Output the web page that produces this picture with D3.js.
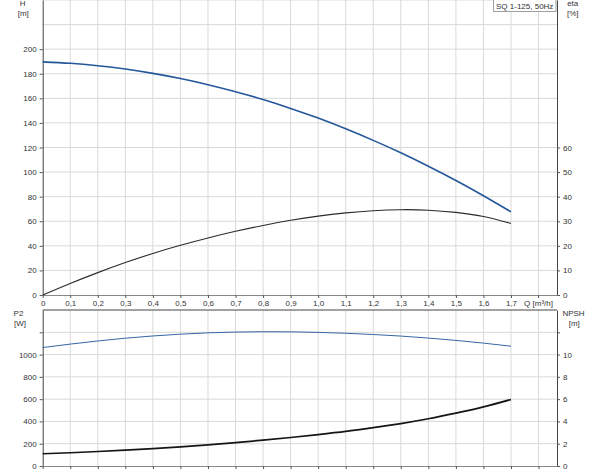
<!DOCTYPE html>
<html>
<head>
<meta charset="utf-8">
<script src="https://cdn.jsdelivr.net/npm/d3@7"></script>
<style>
  html, body { margin: 0; padding: 0; background: #fff; }
  svg { display: block; font-family: "Liberation Sans", Arial, sans-serif; }
  .tick text { fill: #333; font-size: 8px; }
</style>
</head>
<body>
<svg id="chart" width="600" height="473"></svg>
<script>
// ---- data ----
const flow = [0, 0.1, 0.2, 0.3, 0.4, 0.5, 0.6, 0.7, 0.8, 0.9, 1.0, 1.1, 1.2, 1.3, 1.4, 1.5, 1.6, 1.7];
const head = [189.7, 188.5, 186.5, 183.8, 180.3, 176.1, 171.1, 165.4, 159.0, 151.8, 143.9, 135.2, 125.8, 115.7, 104.8, 93.2, 80.8, 67.7];
const eta = [0, 4.7, 9.1, 13.2, 16.9, 20.2, 23.2, 25.9, 28.3, 30.4, 32.1, 33.4, 34.3, 34.7, 34.5, 33.6, 31.9, 29.1];
const p2 = [1063, 1094, 1122, 1147, 1167, 1183, 1195, 1202, 1205, 1204, 1199, 1191, 1180, 1166, 1148, 1127, 1103, 1075];
const npsh = [1.10, 1.19, 1.30, 1.42, 1.56, 1.72, 1.90, 2.10, 2.32, 2.56, 2.82, 3.10, 3.44, 3.81, 4.24, 4.74, 5.30, 5.97];

const xTicks = [0, 0.1, 0.2, 0.3, 0.4, 0.5, 0.6, 0.7, 0.8, 0.9, 1.0, 1.1, 1.2, 1.3, 1.4, 1.5, 1.6, 1.7];
const xGrid = [0.1, 0.2, 0.3, 0.4, 0.5, 0.6, 0.7, 0.8, 0.9, 1.0, 1.1, 1.2, 1.3, 1.4, 1.5, 1.6, 1.7, 1.8];
const hTicks = [0, 20, 40, 60, 80, 100, 120, 140, 160, 180, 200];
const hGrid = [20, 40, 60, 80, 100, 120, 140, 160, 180, 200, 220, 240];
const etaTicks = [0, 10, 20, 30, 40, 50, 60];
const pTicks = [0, 200, 400, 600, 800, 1000, 1200];
const pGrid = [200, 400, 600, 800, 1000, 1200];
const nTicks = [0, 2, 4, 6, 8, 10, 12];
const title = "SQ 1-125, 50Hz";

// ---- layout ----
const svg = d3.select("#chart");
const L = 42.7, R = 557;
const top1 = 0, bot1 = 295;
const top2 = 310, bot2 = 466;

const x = d3.scaleLinear().domain([0, 1.867]).range([L, R]);
const yH = d3.scaleLinear().domain([0, 240]).range([bot1, top1]);
const yE = d3.scaleLinear().domain([0, 120]).range([bot1, top1]);
const yP = d3.scaleLinear().domain([0, 1400]).range([bot2, top2]);
const yN = d3.scaleLinear().domain([0, 14]).range([bot2, top2]);

const fmtQ = d => d === 0 ? "0" : d3.format(".1f")(d).replace(".", ",");
const gridColor = "#d9d9d9";

function grid(yScale, yVals, top, bot) {
  const g = svg.append("g");
  g.selectAll("line.v").data(xGrid).enter().append("line")
    .attr("x1", d => x(d)).attr("x2", d => x(d))
    .attr("y1", top).attr("y2", bot)
    .attr("stroke", gridColor).attr("stroke-width", 1);
  g.selectAll("line.h").data(yVals).enter().append("line")
    .attr("x1", L).attr("x2", R)
    .attr("y1", d => yScale(d)).attr("y2", d => yScale(d))
    .attr("stroke", gridColor).attr("stroke-width", 1);
}
grid(yH, hGrid, top1, bot1);
grid(yP, pGrid, top2, bot2);

function styleAxis(g, color) {
  g.select(".domain").attr("stroke", color);
  g.selectAll(".tick line").attr("stroke", "#555");
  g.selectAll(".tick text").attr("fill", "#333").style("font-size", "8px");
}

// top panel axes
const axL1 = svg.append("g").attr("transform", `translate(${L},0)`)
  .call(d3.axisLeft(yH).tickValues(hTicks).tickSize(3).tickPadding(3).tickSizeOuter(0));
styleAxis(axL1, "#444");
const axR1 = svg.append("g").attr("transform", `translate(${R},0)`)
  .call(d3.axisRight(yE).tickValues(etaTicks).tickSize(3).tickPadding(3).tickSizeOuter(0));
styleAxis(axR1, "#444");
const axB1 = svg.append("g").attr("transform", `translate(0,${bot1})`)
  .call(d3.axisBottom(x).tickValues(xTicks).tickFormat(fmtQ).tickSize(3).tickPadding(2).tickSizeOuter(0));
styleAxis(axB1, "#888");
axB1.append("text").attr("x", x(1.8)).attr("y", 11).attr("text-anchor", "middle")
  .attr("fill", "#333").style("font-size", "8px").text("Q [m³/h]");
axB1.append("line").attr("x1", x(1.8)).attr("x2", x(1.8)).attr("y1", 0).attr("y2", 3).attr("stroke", "#555");

// bottom panel axes
const axL2 = svg.append("g").attr("transform", `translate(${L},0)`)
  .call(d3.axisLeft(yP).tickValues(pTicks).tickFormat(d => d === 1200 ? "" : d).tickSize(3).tickPadding(3).tickSizeOuter(0));
styleAxis(axL2, "#444");
const axR2 = svg.append("g").attr("transform", `translate(${R},0)`)
  .call(d3.axisRight(yN).tickValues(nTicks).tickFormat(d => d === 12 ? "" : d).tickSize(3).tickPadding(3).tickSizeOuter(0));
styleAxis(axR2, "#444");
const axB2 = svg.append("g").attr("transform", `translate(0,${bot2})`)
  .call(d3.axisBottom(x).tickValues(xTicks.concat([1.8])).tickFormat("").tickSize(3).tickSizeOuter(0));
styleAxis(axB2, "#888");
svg.append("line").attr("x1", L).attr("x2", R).attr("y1", top2).attr("y2", top2)
  .attr("stroke", "#444").attr("stroke-width", 1);

// axis titles
function label(tx, ty, t, anchor) {
  svg.append("text").attr("x", tx).attr("y", ty).attr("text-anchor", anchor || "middle")
    .attr("fill", "#333").style("font-size", "8px").text(t);
}
label(22.7, 6.3, "H");
label(23.3, 16.3, "[m]");
label(572.7, 6.3, "eta");
label(572.7, 16.3, "[%]");
label(18.5, 316.3, "P2");
label(20, 325.7, "[W]");
label(573.5, 316.3, "NPSH");
label(574.3, 325.7, "[m]");

// title box
const tb = svg.append("g");
tb.append("rect").attr("x", 493.5).attr("y", -1).attr("width", 62.5).attr("height", 12.5)
  .attr("fill", "#fff").attr("stroke", "#888").attr("stroke-width", 0.8);
tb.append("text").attr("x", 524.7).attr("y", 8.5).attr("text-anchor", "middle")
  .attr("fill", "#333").style("font-size", "8px").text(title);

// curves
function curve(vals, yScale, color, width) {
  const line = d3.line().x((d, i) => x(flow[i])).y(d => yScale(d)).curve(d3.curveNatural);
  svg.append("path").datum(vals).attr("d", line)
    .attr("fill", "none").attr("stroke", color).attr("stroke-width", width)
    .attr("stroke-linejoin", "round");
}
curve(head, yH, "#23579a", 1.6);
curve(eta, yE, "#2b2b2b", 1.1);
curve(p2, yP, "#3566a6", 1.0);
curve(npsh, yN, "#151515", 1.7);
</script>
</body>
</html>
